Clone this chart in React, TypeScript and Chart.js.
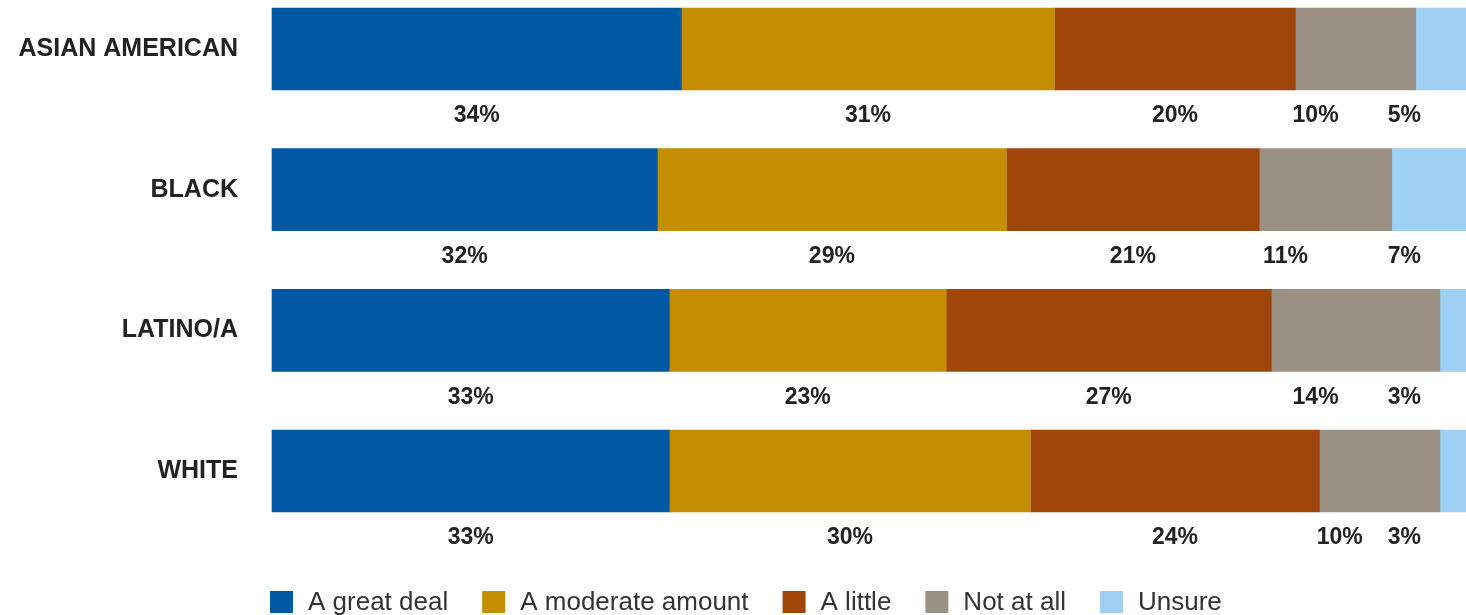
import React, { useEffect, useRef } from "react";
import { Chart, registerables } from "chart.js";

Chart.register(...registerables);

const categories = ["ASIAN AMERICAN", "BLACK", "LATINO/A", "WHITE"];
const seriesNames = ["A great deal", "A moderate amount", "A little", "Not at all", "Unsure"];
const greatDeal = [34, 32, 33, 33];
const moderateAmount = [31, 29, 23, 30];
const aLittle = [20, 21, 27, 24];
const notAtAll = [10, 11, 14, 10];
const unsure = [5, 7, 3, 3];
const seriesColors = ["#0058A2", "#C58E00", "#A0460A", "#9B9084", "#9FCFF2"];

const FONT = "'Liberation Sans', Arial, sans-serif";

const valueLabelPlugin = {
  id: "valueLabels",
  afterDatasetsDraw(chart: any) {
    const ctx = chart.ctx;
    ctx.save();
    ctx.font = `bold 23px ${FONT}`;
    ctx.fillStyle = "#222222";
    ctx.textBaseline = "middle";
    const n = chart.data.datasets.length;
    chart.data.datasets.forEach((ds: any, i: number) => {
      const meta = chart.getDatasetMeta(i);
      meta.data.forEach((el: any, j: number) => {
        const start = Math.min(el.base, el.x);
        const end = Math.max(el.base, el.x);
        const y = el.y + el.height / 2 + 26;
        const text = `${ds.data[j]}%`;
        if (i === n - 1) {
          ctx.textAlign = "right";
          ctx.fillText(text, chart.chartArea.right - 55, y);
        } else if (i === n - 2) {
          ctx.textAlign = "center";
          ctx.fillText(text, (start + end) / 2 - 40, y);
        } else {
          ctx.textAlign = "center";
          ctx.fillText(text, (start + end) / 2, y);
        }
      });
    });
    ctx.restore();
  },
};

const legendPlugin = {
  id: "customLegend",
  afterDraw(chart: any) {
    const ctx = chart.ctx;
    ctx.save();
    ctx.font = `26px ${FONT}`;
    ctx.textBaseline = "middle";
    ctx.textAlign = "left";
    let x = chart.chartArea.left - 2;
    const yc = chart.height - 13;
    chart.data.datasets.forEach((ds: any) => {
      ctx.fillStyle = ds.backgroundColor;
      ctx.fillRect(x, yc - 11, 23, 22);
      x += 23 + 15;
      ctx.fillStyle = "#333333";
      ctx.fillText(ds.label, x, yc + 1);
      x += ctx.measureText(ds.label).width + 34;
    });
    ctx.restore();
  },
};

export default function App() {
  const ref = useRef<HTMLCanvasElement | null>(null);
  useEffect(() => {
    if (!ref.current) return;
    const series = [greatDeal, moderateAmount, aLittle, notAtAll, unsure];
    const chart = new Chart(ref.current, {
      type: "bar",
      data: {
        labels: categories,
        datasets: series.map((d, i) => ({
          label: seriesNames[i],
          data: d,
          backgroundColor: seriesColors[i],
          borderWidth: 0,
          barThickness: 82,
          clip: false as any,
        })),
      },
      options: {
        indexAxis: "y",
        responsive: false,
        animation: false,
        layout: { padding: { top: 49, bottom: 144, left: 0, right: 0 } },
        plugins: { legend: { display: false }, tooltip: { enabled: false } },
        scales: {
          x: { stacked: true, min: 0, max: 100, display: false },
          y: {
            stacked: true,
            offset: false,
            grid: { display: false, drawTicks: false },
            border: { display: false },
            ticks: {
              padding: 34,
              color: "#222222",
              font: { family: FONT, size: 25, weight: "bold" },
            },
            afterFit(scale: any) {
              scale.width = 272;
            },
          },
        },
      },
      plugins: [valueLabelPlugin, legendPlugin],
    });
    return () => chart.destroy();
  }, []);
  return (
    <div style={{ position: "absolute", left: 0, top: 0, width: 1466, height: 615, overflow: "hidden", background: "#fff" }}>
      <canvas ref={ref} width={1476} height={615} style={{ display: "block" }} />
    </div>
  );
}
